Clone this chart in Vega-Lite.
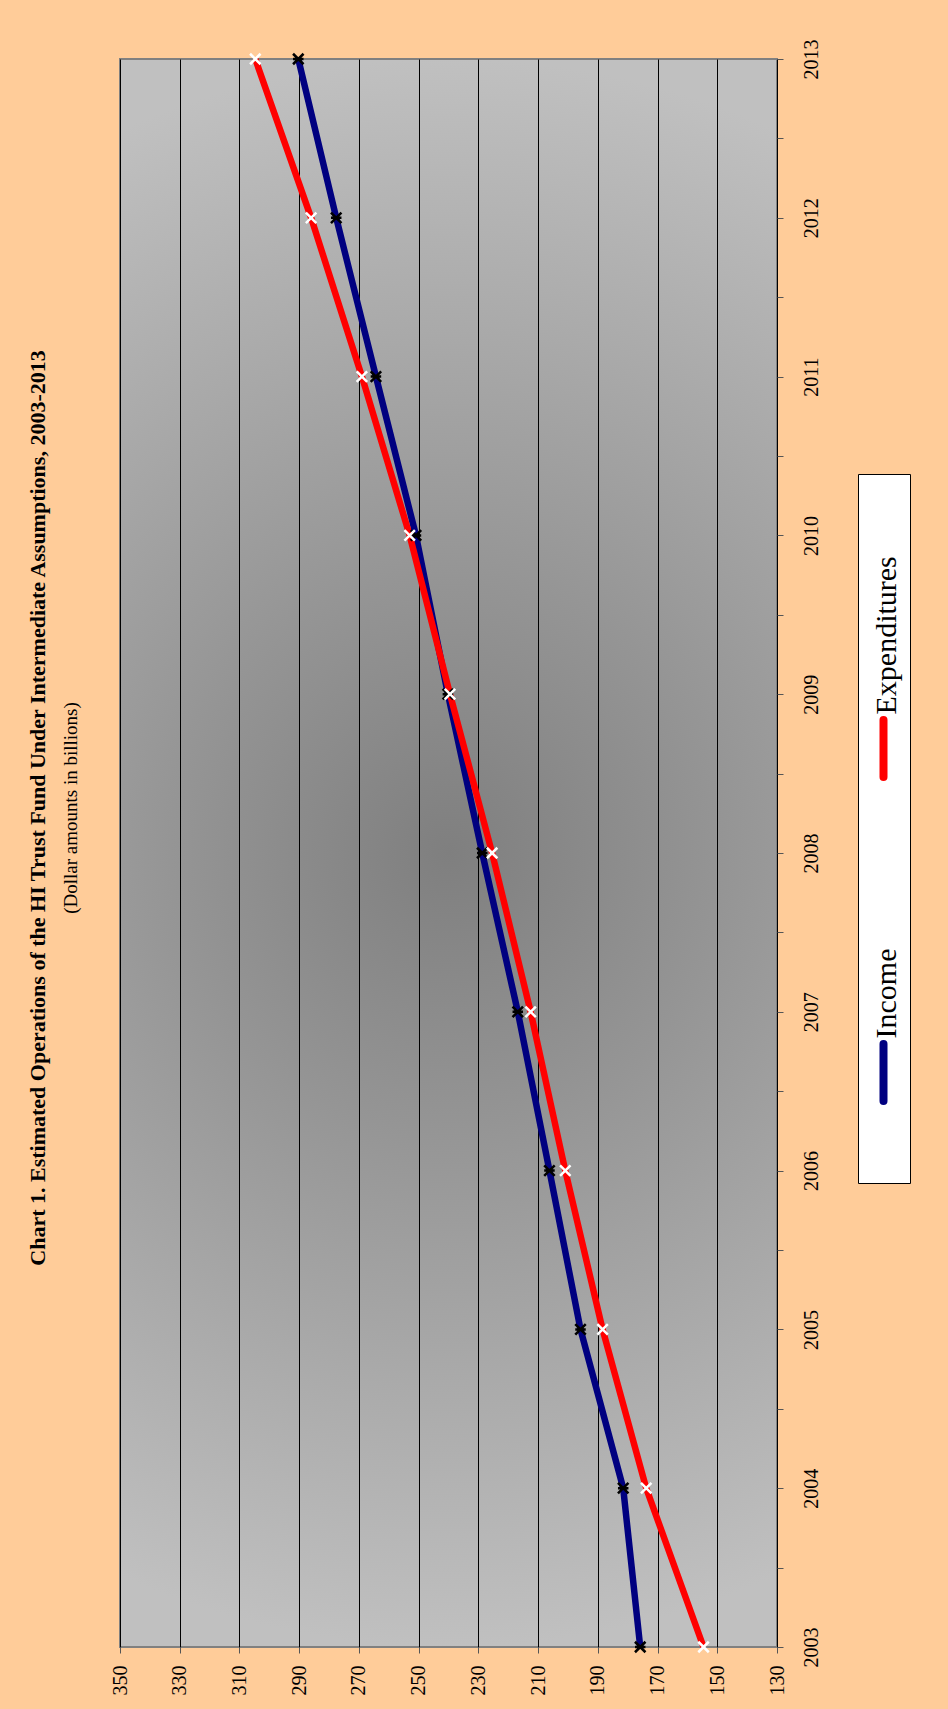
{
  "$schema": "https://vega.github.io/schema/vega-lite/v6.json",
  "width": 657,
  "height": 1588,
  "autosize": {"type": "none"},
  "padding": {"left": 120, "top": 59, "right": 171, "bottom": 62},
  "background": "#FFCC99",
  "title": {
    "text": "Chart 1. Estimated Operations of the HI Trust Fund Under Intermediate Assumptions, 2003-2013",
    "subtitle": "(Dollar amounts in billions)",
    "orient": "left",
    "anchor": "middle",
    "font": "Liberation Serif",
    "fontSize": 22,
    "fontWeight": "bold",
    "color": "black",
    "subtitleFont": "Liberation Serif",
    "subtitleFontSize": 19,
    "subtitleColor": "black",
    "subtitlePadding": 12,
    "offset": 28,
    "dx": 45
  },
  "data": {
    "values": [
      {"year": 2003, "series": "Income", "value": 175.8},
      {"year": 2004, "series": "Income", "value": 181.5},
      {"year": 2005, "series": "Income", "value": 195.8},
      {"year": 2006, "series": "Income", "value": 206.2},
      {"year": 2007, "series": "Income", "value": 216.8},
      {"year": 2008, "series": "Income", "value": 228.7},
      {"year": 2009, "series": "Income", "value": 240.2},
      {"year": 2010, "series": "Income", "value": 250.9},
      {"year": 2011, "series": "Income", "value": 264.3},
      {"year": 2012, "series": "Income", "value": 277.6},
      {"year": 2013, "series": "Income", "value": 290.3},
      {"year": 2003, "series": "Expenditures", "value": 154.6},
      {"year": 2004, "series": "Expenditures", "value": 173.8},
      {"year": 2005, "series": "Expenditures", "value": 188.4},
      {"year": 2006, "series": "Expenditures", "value": 200.9},
      {"year": 2007, "series": "Expenditures", "value": 212.5},
      {"year": 2008, "series": "Expenditures", "value": 225.4},
      {"year": 2009, "series": "Expenditures", "value": 239.5},
      {"year": 2010, "series": "Expenditures", "value": 253.0},
      {"year": 2011, "series": "Expenditures", "value": 269.0},
      {"year": 2012, "series": "Expenditures", "value": 286.0},
      {"year": 2013, "series": "Expenditures", "value": 304.7}
    ]
  },
  "encoding": {
    "x": {
      "field": "value",
      "type": "quantitative",
      "scale": {"domain": [130, 350], "reverse": true, "nice": false, "zero": false},
      "axis": {
        "title": null,
        "orient": "bottom",
        "values": [130, 150, 170, 190, 210, 230, 250, 270, 290, 310, 330, 350],
        "labelAngle": -90,
        "labelAlign": "right",
        "labelBaseline": "middle",
        "labelFont": "Liberation Serif",
        "labelFontSize": 20,
        "labelColor": "black",
        "labelPadding": 12,
        "tickSize": 6,
        "tickColor": "#555555",
        "domain": false,
        "grid": true,
        "gridColor": "black",
        "gridWidth": 1,
        "labelOverlap": false
      }
    },
    "y": {
      "field": "year",
      "type": "quantitative",
      "scale": {"domain": [2003, 2013], "nice": false, "zero": false},
      "axis": {
        "title": null,
        "orient": "right",
        "values": [2003, 2003.5, 2004, 2004.5, 2005, 2005.5, 2006, 2006.5, 2007, 2007.5, 2008, 2008.5, 2009, 2009.5, 2010, 2010.5, 2011, 2011.5, 2012, 2012.5, 2013],
        "labelExpr": "datum.value % 1 === 0 ? format(datum.value, 'd') : ''",
        "labelAngle": -90,
        "labelAlign": "center",
        "labelBaseline": "top",
        "labelFont": "Liberation Serif",
        "labelFontSize": 20,
        "labelColor": "black",
        "labelPadding": 18,
        "tickSize": 6,
        "tickColor": "#555555",
        "domain": false,
        "grid": false,
        "labelOverlap": false
      }
    }
  },
  "layer": [
    {
      "mark": {"type": "line", "strokeWidth": 6.5, "strokeJoin": "round"},
      "encoding": {
        "color": {
          "field": "series",
          "type": "nominal",
          "scale": {"domain": ["Expenditures", "Income"], "range": ["#FF0000", "#000080"]},
          "legend": {
            "title": "\u00a0",
            "titleFontSize": 10,
            "titlePadding": 239,
            "orient": "none",
            "legendX": 738,
            "legendY": 415,
            "direction": "vertical",
            "fillColor": "white",
            "strokeColor": "black",
            "padding": 7,
            "symbolType": "M0,-2L0,2M0,6.1",
            "symbolSize": 812,
            "symbolStrokeWidth": 8,
            "labelFont": "Liberation Serif",
            "labelFontSize": 30,
            "labelColor": "black",
            "labelOffset": -15,
            "rowPadding": 96,
            "encoding": {
              "labels": {"angle": {"value": -90}, "align": {"value": "left"}, "baseline": {"value": "middle"}, "dx": {"value": 34}},
              "symbols": {"strokeCap": {"value": "round"}}
            }
          }
        }
      }
    },
    {
      "transform": [{"filter": "datum.series === 'Income'"}],
      "mark": {"type": "point", "shape": "M-1,-1L1,1M-1,1L1,-1M-1,0L1,0", "size": 110, "filled": false, "stroke": "black", "strokeWidth": 2.5, "opacity": 1}
    },
    {
      "transform": [{"filter": "datum.series === 'Expenditures'"}],
      "mark": {"type": "point", "shape": "M-1,-1L1,1M-1,1L1,-1", "size": 110, "filled": false, "stroke": "white", "strokeWidth": 2.5, "opacity": 1}
    }
  ],
  "config": {
    "view": {
      "stroke": "#808080",
      "strokeWidth": 2,
      "fill": {
        "gradient": "radial",
        "x1": 0.5, "y1": 0.5, "r1": 0,
        "x2": 0.5, "y2": 0.5, "r2": 0.5,
        "stops": [
          {"offset": 0, "color": "#7f7f7f"},
          {"offset": 0.35, "color": "#959595"},
          {"offset": 1, "color": "#c0c0c0"}
        ]
      }
    }
  }
}
